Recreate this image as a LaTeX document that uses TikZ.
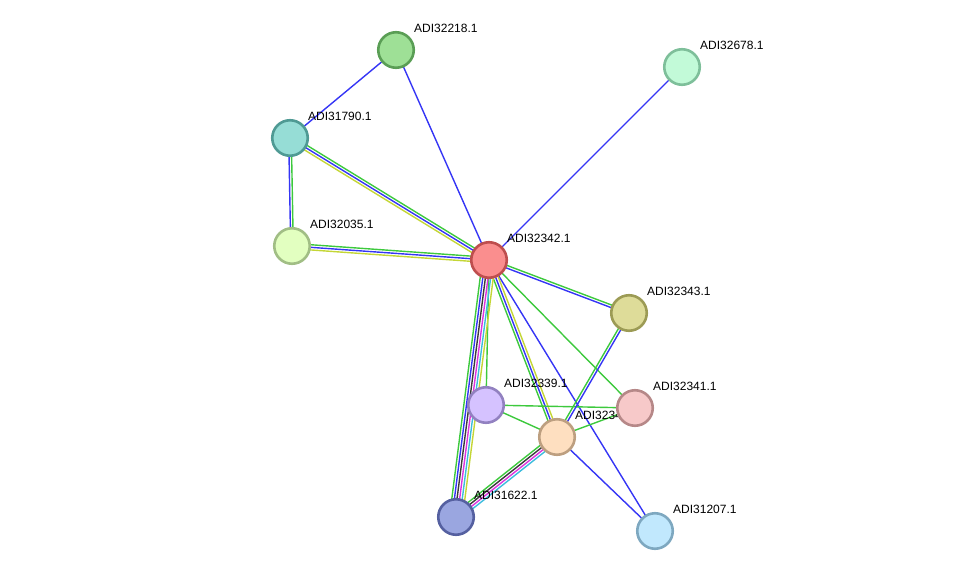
\documentclass[tikz,border=0pt]{standalone}
\usepackage{fontspec}
\setmainfont{Liberation Sans}
\usetikzlibrary{calc}

\definecolor{nbhgreen}{HTML}{3DC93D}
\definecolor{coocblue}{HTML}{3535F5}
\definecolor{textyellow}{HTML}{C4D636}
\definecolor{coexpblack}{HTML}{3A3A3A}
\definecolor{expmagenta}{HTML}{DD33DD}
\definecolor{dbcyan}{HTML}{3DBCDD}

\tikzset{
  protein/.style={circle, draw, line width=2.6pt, minimum size=35.5pt, inner sep=0pt},
  plabel/.style={anchor=west, font=\fontsize{12}{14}\selectfont, inner sep=0pt},
  link/.style={line width=1.4pt}
}

% one line per evidence channel, shifted side by side
\newcommand{\strlink}[3]{%
  \foreach \col/\off in {#3}
    \draw[link, \col] ($(#1.center)!\off pt!90:(#2.center)$) -- ($(#2.center)!\off pt!-90:(#1.center)$);
}

\begin{document}
\begin{tikzpicture}[x=1pt, y=-1pt]
  \useasboundingbox (0,0) rectangle (976,577);

  \coordinate (p32218) at (396,50);
  \coordinate (p32678) at (682,67);
  \coordinate (p31790) at (290,138);
  \coordinate (p32035) at (292,246);
  \coordinate (p32342) at (489,260);
  \coordinate (p32343) at (629,313);
  \coordinate (p32339) at (486,405);
  \coordinate (p32341) at (635,408);
  \coordinate (p32340) at (557,437);
  \coordinate (p31622) at (456,517);
  \coordinate (p31207) at (655,531);

  % edges
  \strlink{p32218}{p31790}{coocblue/0}
  \strlink{p32218}{p32342}{coocblue/0}
  \strlink{p32678}{p32342}{coocblue/0}
  \strlink{p31790}{p32035}{coocblue/-1.3, nbhgreen/1.3}
  \strlink{p31790}{p32342}{nbhgreen/2.6, coocblue/0, textyellow/-2.6}
  \strlink{p32035}{p32342}{nbhgreen/2.6, coocblue/0, textyellow/-2.6}
  \strlink{p32342}{p32343}{nbhgreen/1.3, coocblue/-1.3}
  \strlink{p32342}{p32341}{nbhgreen/0}
  \strlink{p32342}{p31207}{coocblue/0}
  \strlink{p32342}{p32340}{nbhgreen/-2.6, coocblue/0, textyellow/2.6}
  \strlink{p32342}{p32339}{nbhgreen/0}
  \strlink{p32342}{p31622}{nbhgreen/-6.5, coocblue/-3.9, coexpblack/-1.3, expmagenta/1.3, dbcyan/3.9, textyellow/6.5}
  \strlink{p32339}{p32341}{nbhgreen/0}
  \strlink{p32339}{p32340}{nbhgreen/0}
  \strlink{p32340}{p32341}{nbhgreen/0}
  \strlink{p32340}{p32343}{nbhgreen/1.3, coocblue/-1.3}
  \strlink{p32340}{p31622}{nbhgreen/-3.9, coexpblack/-1.3, expmagenta/1.3, dbcyan/3.9}
  \strlink{p32340}{p31207}{coocblue/0}

  % labels
  \node[plabel] (l32218) at ($(p32218)+(18,-22)$) {ADI32218.1};
  \node[plabel] (l32678) at ($(p32678)+(18,-22)$) {ADI32678.1};
  \node[plabel] (l31790) at ($(p31790)+(18,-22)$) {ADI31790.1};
  \node[plabel] (l32035) at ($(p32035)+(18,-22)$) {ADI32035.1};
  \node[plabel] (l32342) at ($(p32342)+(18,-22)$) {ADI32342.1};
  \node[plabel] (l32343) at ($(p32343)+(18,-22)$) {ADI32343.1};
  \node[plabel] (l32339) at ($(p32339)+(18,-22)$) {ADI32339.1};
  \node[plabel] (l32341) at ($(p32341)+(18,-22)$) {ADI32341.1};
  \node[plabel] (l32340) at ($(p32340)+(18,-22)$) {ADI32340.1};
  \node[plabel] (l31622) at ($(p31622)+(18,-22)$) {ADI31622.1};
  \node[plabel] (l31207) at ($(p31207)+(18,-22)$) {ADI31207.1};

  % proteins
  \node[protein, draw={rgb,255:red,90;green,158;blue,85}, fill={rgb,255:red,158;green,224;blue,150}] (n32218) at (p32218) {};
  \node[protein, draw={rgb,255:red,126;green,191;blue,154}, fill={rgb,255:red,194;green,250;blue,216}] (n32678) at (p32678) {};
  \node[protein, draw={rgb,255:red,79;green,154;blue,148}, fill={rgb,255:red,150;green,221;blue,214}] (n31790) at (p31790) {};
  \node[protein, draw={rgb,255:red,161;green,190;blue,133}, fill={rgb,255:red,226;green,255;blue,192}] (n32035) at (p32035) {};
  \node[protein, draw={rgb,255:red,190;green,78;blue,78}, fill={rgb,255:red,250;green,142;blue,142}] (n32342) at (p32342) {};
  \node[protein, draw={rgb,255:red,156;green,155;blue,85}, fill={rgb,255:red,222;green,220;blue,153}] (n32343) at (p32343) {};
  \node[protein, draw={rgb,255:red,146;green,129;blue,192}, fill={rgb,255:red,213;green,194;blue,255}] (n32339) at (p32339) {};
  \node[protein, draw={rgb,255:red,182;green,136;blue,136}, fill={rgb,255:red,247;green,201;blue,201}] (n32341) at (p32341) {};
  \node[protein, draw={rgb,255:red,189;green,159;blue,128}, fill={rgb,255:red,254;green,223;blue,192}] (n32340) at (p32340) {};
  \node[protein, draw={rgb,255:red,85;green,96;blue,160}, fill={rgb,255:red,154;green,166;blue,224}] (n31622) at (p31622) {};
  \node[protein, draw={rgb,255:red,126;green,168;blue,192}, fill={rgb,255:red,193;green,232;blue,253}] (n31207) at (p31207) {};
\end{tikzpicture}
\end{document}
